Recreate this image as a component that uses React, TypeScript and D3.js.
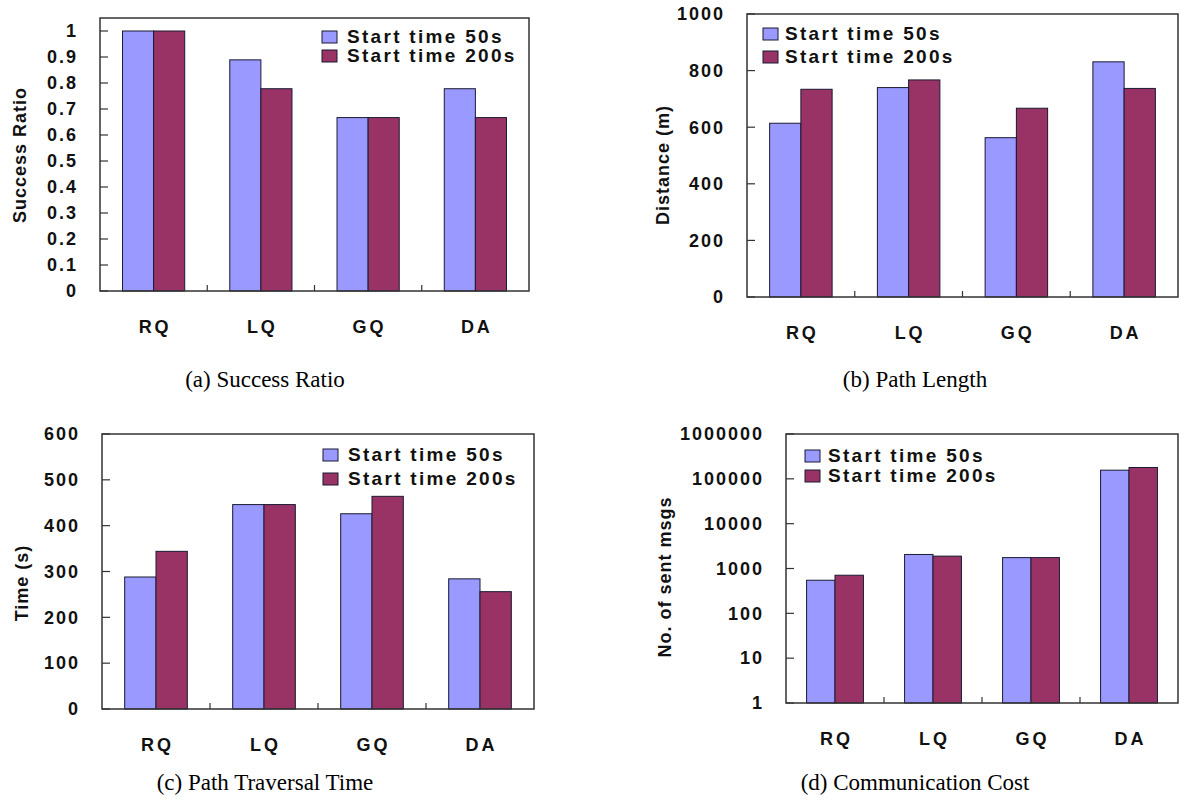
import React from 'react';
import * as d3 from 'd3';

// categories and series
const categories = ['RQ', 'LQ', 'GQ', 'DA'];
const seriesNames = ['Start time 50s', 'Start time 200s'];
const seriesColors = ['#9999ff', '#993366'];

// (a) success ratio
const successRatio50 = [1, 0.889, 0.667, 0.778];
const successRatio200 = [1, 0.778, 0.667, 0.667];
const successTicks = [0, 0.1, 0.2, 0.3, 0.4, 0.5, 0.6, 0.7, 0.8, 0.9, 1];

// (b) path length (m)
const pathLength50 = [614, 740, 563, 831];
const pathLength200 = [734, 767, 667, 737];
const pathTicks = [0, 200, 400, 600, 800, 1000];

// (c) path traversal time (s)
const traversal50 = [288, 446, 426, 284];
const traversal200 = [344, 446, 464, 256];
const traversalTicks = [0, 100, 200, 300, 400, 500, 600];

// (d) communication cost (log)
const msgs50 = [547, 2056, 1750, 156000];
const msgs200 = [708, 1887, 1750, 179000];
const msgTicks = [1, 10, 100, 1000, 10000, 100000, 1000000];

const SANS = 'Liberation Sans, Arial, sans-serif';
const SERIF = 'Liberation Serif, Times New Roman, serif';

function Panel({ box, y, ticks, fmt, series, legend, yTitle, yTitleAt, caption, captionAt }) {
  const x = d3.scaleBand().domain(categories).range([box.left, box.right]);
  const bw = x.bandwidth() * 0.29;
  const base = y.range()[0];

  return (
    <g>
      {/* bars */}
      {categories.map((c, i) => {
        const cx = x(c) + x.bandwidth() / 2;
        return series.map((s, k) => (
          <rect key={c + k}
            x={cx - bw + k * bw} y={y(s[i])}
            width={bw} height={base - y(s[i])}
            fill={seriesColors[k]} stroke="#1a1a33" strokeWidth={1} />
        ));
      })}

      {/* frame */}
      <rect x={box.left} y={box.top} width={box.right - box.left} height={box.bottom - box.top}
        fill="none" stroke="#333" strokeWidth={1.5} />

      {/* y ticks, pointing inwards */}
      {ticks.map(t => (
        <g key={t}>
          <line x1={box.left} x2={box.left + 8} y1={y(t)} y2={y(t)} stroke="#333" strokeWidth={1.2} />
          <text x={box.left - 22} y={y(t)} dy="0.35em" textAnchor="end"
            fontFamily={SANS} fontWeight="bold" fontSize={18} letterSpacing={2} fill="#111">
            {fmt(t)}
          </text>
        </g>
      ))}

      {/* category ticks + labels */}
      {categories.slice(1).map(c => (
        <line key={c} x1={x(c)} x2={x(c)} y1={box.bottom} y2={box.bottom - 6} stroke="#333" strokeWidth={1.2} />
      ))}
      {categories.map(c => (
        <text key={c} x={x(c) + x.bandwidth() / 2 + 1.5} y={box.bottom + 42} textAnchor="middle"
          fontFamily={SANS} fontWeight="bold" fontSize={18} letterSpacing={3} fill="#111">
          {c}
        </text>
      ))}

      {/* legend */}
      {seriesNames.map((n, k) => (
        <g key={n} transform={`translate(${legend.x},${legend.y + k * legend.gap})`}>
          <rect x={0} y={0} width={15} height={12} fill={seriesColors[k]} stroke="#1a1a33" strokeWidth={1} />
          <text x={legend.tx} y={12} fontFamily={SANS} fontWeight="bold" fontSize={19}
            letterSpacing={2.3} fill="#111">{n}</text>
        </g>
      ))}

      {/* axis title */}
      <text transform={`translate(${yTitleAt[0]},${yTitleAt[1]}) rotate(-90)`} textAnchor="middle"
        fontFamily={SANS} fontWeight="bold" fontSize={18} letterSpacing={1} fill="#111">
        {yTitle}
      </text>

      <text x={captionAt[0]} y={captionAt[1]} textAnchor="middle" fontFamily={SERIF} fontSize={23} fill="#000">
        {caption}
      </text>
    </g>
  );
}

export default function App() {
  const boxA = { left: 100, right: 529, top: 18, bottom: 291 };
  const boxB = { left: 747, right: 1178, top: 14, bottom: 297 };
  const boxC = { left: 102, right: 534, top: 434, bottom: 709 };
  const boxD = { left: 786, right: 1178, top: 434, bottom: 703 };

  const yA = d3.scaleLinear().domain([0, 1.05]).range([boxA.bottom, boxA.top]);
  const yB = d3.scaleLinear().domain([0, 1000]).range([boxB.bottom, boxB.top]);
  const yC = d3.scaleLinear().domain([0, 600]).range([boxC.bottom, boxC.top]);
  const yD = d3.scaleLog().domain([1, 1000000]).range([boxD.bottom, boxD.top]);

  return (
    <svg width={1184} height={805} style={{ position: 'absolute', left: 0, top: 0, background: '#fff' }}>
      <Panel box={boxA} y={yA} ticks={successTicks} fmt={t => (t === 0 || t === 1 ? String(t) : t.toFixed(1))}
        series={[successRatio50, successRatio200]}
        legend={{ x: 322, y: 31, gap: 19, tx: 25 }}
        yTitle="Success Ratio" yTitleAt={[26, 155]}
        caption="(a) Success Ratio" captionAt={[265, 387]} />
      <Panel box={boxB} y={yB} ticks={pathTicks} fmt={t => String(t)}
        series={[pathLength50, pathLength200]}
        legend={{ x: 763, y: 28, gap: 23, tx: 22 }}
        yTitle="Distance (m)" yTitleAt={[669, 165]}
        caption="(b) Path Length" captionAt={[915, 387]} />
      <Panel box={boxC} y={yC} ticks={traversalTicks} fmt={t => String(t)}
        series={[traversal50, traversal200]}
        legend={{ x: 323, y: 449, gap: 24, tx: 25 }}
        yTitle="Time (s)" yTitleAt={[28, 583]}
        caption="(c) Path Traversal Time" captionAt={[265, 790]} />
      <Panel box={boxD} y={yD} ticks={msgTicks} fmt={t => String(t)}
        series={[msgs50, msgs200]}
        legend={{ x: 805, y: 450, gap: 20, tx: 23 }}
        yTitle="No. of sent msgs" yTitleAt={[671, 577]}
        caption="(d) Communication Cost" captionAt={[915, 790]} />
    </svg>
  );
}
